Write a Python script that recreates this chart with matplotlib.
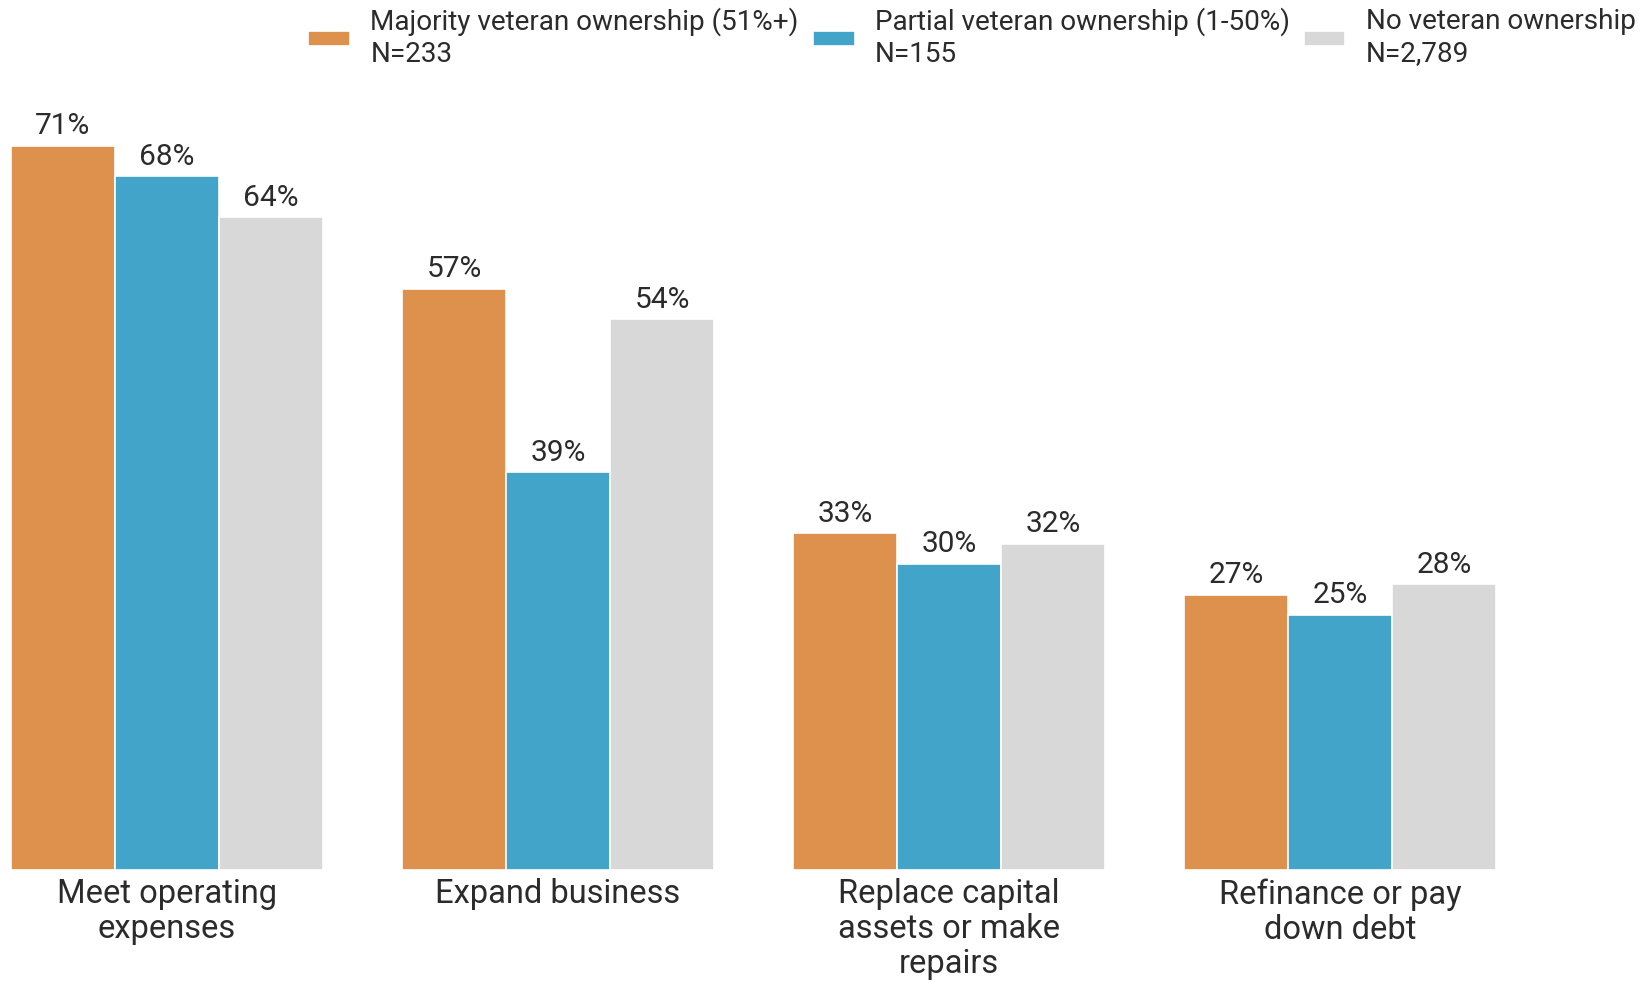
import matplotlib.pyplot as plt
from matplotlib.legend_handler import HandlerPatch
from matplotlib.patches import Rectangle
import numpy as np

plt.rcParams['font.family'] = ['Roboto', 'DejaVu Sans']

categories = ["Meet operating\nexpenses", "Expand business",
              "Replace capital\nassets or make\nrepairs", "Refinance or pay\ndown debt"]
series = ["Majority veteran ownership (51%+)\nN=233",
          "Partial veteran ownership (1-50%)\nN=155",
          "No veteran ownership\nN=2,789"]
majority = [71, 57, 33, 27]
partial = [68, 39, 30, 25]
no_vet = [64, 54, 32, 28]
colors = ["#DE914D", "#42A4C8", "#D8D8D8"]

txt = "#2b2b2b"
fig = plt.figure(figsize=(16.45, 9.82), dpi=100)
ax = fig.add_axes([11/1645, 1 - 870/982, (1496 - 11)/1645, 770/982])

step = 3.76
x = np.arange(len(categories)) * step
for k, (vals, lab, c) in enumerate(zip([majority, partial, no_vet], series, colors)):
    bars = ax.bar(x + (k - 1), vals, width=1.0, color=c, edgecolor="white",
                  linewidth=1.2, label=lab)
    ax.bar_label(bars, labels=[f"{v}%" for v in vals], padding=4,
                 fontsize=21.5, color=txt)

ax.set_xlim(-1.5, x[-1] + 1.5)
ax.set_ylim(0, 770 / 10.2)
ax.set_xticks(x)
ax.set_xticklabels(categories, fontsize=23.5, color=txt, linespacing=1.12)
ax.tick_params(axis="x", length=0, pad=6)
ax.set_yticks([])
for s in ax.spines.values():
    s.set_visible(False)


def low_patch(legend, orig_handle, xdescent, ydescent, width, height, fontsize):
    # sit the swatch a bit lower, like the original
    return Rectangle((-xdescent, -ydescent - 3), width, height)


fig.legend(loc="upper right", bbox_to_anchor=(1641/1645, 0.998), ncol=3,
           frameon=False, fontsize=20.1, handlelength=1.5, handleheight=0.45,
           handletextpad=0.72, columnspacing=0.5, labelcolor=txt,
           borderaxespad=0.1, borderpad=0.1,
           handler_map={Rectangle: HandlerPatch(patch_func=low_patch)})

fig.savefig("out.png", dpi=100)
